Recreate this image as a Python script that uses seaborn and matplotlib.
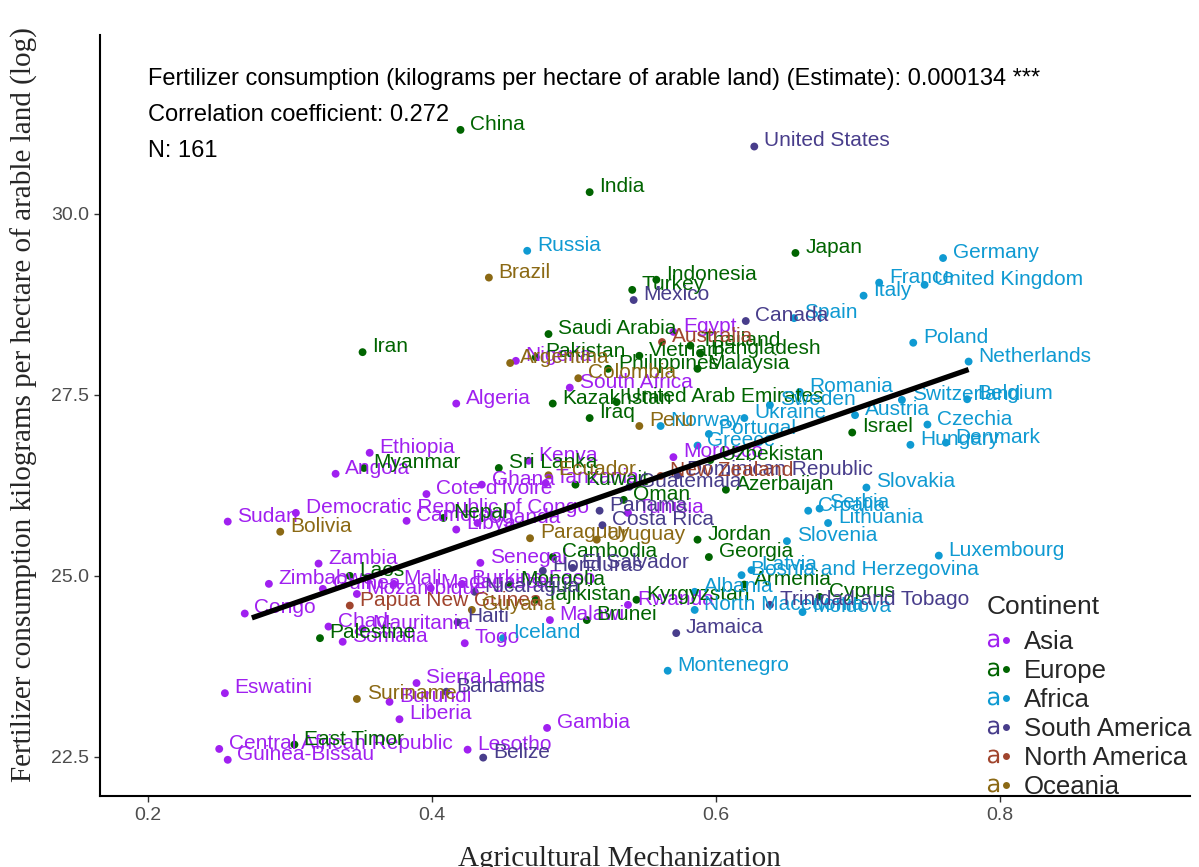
import matplotlib
matplotlib.use("Agg")
import matplotlib.pyplot as plt
import seaborn as sns
import pandas as pd
from matplotlib.lines import Line2D
from matplotlib.legend_handler import HandlerTuple

# ---- data ----
continents = ["Asia", "Europe", "Africa", "South America", "North America", "Oceania"]
colors = ["#A020F0", "#006400", "#0F9AD2", "#483D8B", "#A0452E", "#8B6914"]

asia_names = ["Algeria", "Ethiopia", "Angola", "Sudan", "Democratic Republic of Congo", "Cote d'Ivoire",
              "Ghana", "Kenya", "Tanzania", "Cameroon", "Libya", "Uganda", "Tunisia", "Morocco", "Egypt",
              "Nigeria", "South Africa", "Senegal", "Zambia", "Zimbabwe", "Congo", "Mali", "Mozambique",
              "Guinea", "Madagascar", "Burkina Faso", "Malawi", "Rwanda", "Togo", "Chad", "Somalia",
              "Mauritania", "Sierra Leone", "Burundi", "Liberia", "Eswatini", "Gambia",
              "Central African Republic", "Guinea-Bissau", "Lesotho"]
asia_x = [0.417, 0.356, 0.332, 0.256, 0.304, 0.396, 0.435, 0.468, 0.480, 0.382, 0.417, 0.432, 0.538, 0.570,
          0.570, 0.459, 0.497, 0.434, 0.320, 0.285, 0.268, 0.373, 0.347, 0.323, 0.399, 0.421, 0.483, 0.538,
          0.423, 0.327, 0.337, 0.351, 0.389, 0.370, 0.377, 0.254, 0.481, 0.250, 0.256, 0.425]
asia_y = [27.38, 26.70, 26.41, 25.75, 25.87, 26.13, 26.26, 26.59, 26.28, 25.76, 25.64, 25.73, 25.87, 26.64,
          28.37, 27.97, 27.60, 25.18, 25.17, 24.89, 24.48, 24.89, 24.75, 24.82, 24.83, 24.89, 24.39, 24.60,
          24.07, 24.30, 24.09, 24.27, 23.52, 23.26, 23.02, 23.38, 22.90, 22.61, 22.46, 22.60]

europe_names = ["China", "India", "Japan", "Indonesia", "Turkey", "Saudi Arabia", "Iran", "Pakistan",
                "Vietnam", "Philippines", "Thailand", "Bangladesh", "Malaysia", "Kazakhstan",
                "United Arab Emirates", "Iraq", "Israel", "Myanmar", "Sri Lanka", "Kuwait", "Uzbekistan",
                "Azerbaijan", "Oman", "Nepal", "Jordan", "Cambodia", "Georgia", "Laos", "Mongolia",
                "Tajikistan", "Kyrgyzstan", "Brunei", "Armenia", "Cyprus", "Palestine", "East Timor"]
europe_x = [0.420, 0.511, 0.656, 0.558, 0.541, 0.482, 0.351, 0.473, 0.546, 0.524, 0.582, 0.589, 0.587,
            0.485, 0.530, 0.511, 0.696, 0.352, 0.447, 0.501, 0.596, 0.607, 0.535, 0.408, 0.587, 0.485,
            0.595, 0.342, 0.455, 0.473, 0.544, 0.509, 0.620, 0.673, 0.321, 0.303]
europe_y = [31.16, 30.30, 29.46, 29.09, 28.95, 28.34, 28.09, 28.02, 28.04, 27.86, 28.18, 28.07, 27.86,
            27.38, 27.40, 27.18, 26.98, 26.49, 26.49, 26.26, 26.60, 26.19, 26.05, 25.80, 25.50, 25.26,
            25.26, 25.00, 24.88, 24.67, 24.67, 24.39, 24.88, 24.71, 24.14, 22.67]

africa_names = ["Russia", "Germany", "France", "United Kingdom", "Italy", "Spain", "Poland", "Netherlands",
                "Romania", "Sweden", "Switzerland", "Belgium", "Austria", "Czechia", "Hungary", "Denmark",
                "Norway", "Ukraine", "Portugal", "Greece", "Slovakia", "Serbia", "Croatia", "Lithuania",
                "Slovenia", "Luxembourg", "Latvia", "Bosnia and Herzegovina", "Albania", "North Macedonia",
                "Moldova", "Iceland", "Montenegro"]
africa_x = [0.467, 0.760, 0.715, 0.747, 0.704, 0.655, 0.739, 0.778, 0.659, 0.638, 0.731, 0.777, 0.698,
            0.749, 0.737, 0.762, 0.561, 0.620, 0.595, 0.587, 0.706, 0.673, 0.665, 0.679, 0.650, 0.757,
            0.625, 0.618, 0.585, 0.585, 0.661, 0.450, 0.566]
africa_y = [29.49, 29.39, 29.05, 29.02, 28.87, 28.56, 28.22, 27.96, 27.54, 27.36, 27.43, 27.44, 27.22,
            27.09, 26.81, 26.84, 27.07, 27.18, 26.96, 26.80, 26.22, 25.93, 25.90, 25.73, 25.48, 25.28,
            25.08, 25.01, 24.78, 24.53, 24.50, 24.14, 23.69]

samerica_names = ["United States", "Mexico", "Canada", "Guatemala", "Dominican Republic", "Panama",
                  "Costa Rica", "Honduras", "El Salvador", "Nicaragua", "Haiti", "Jamaica",
                  "Trinidad and Tobago", "Bahamas", "Belize"]
samerica_x = [0.627, 0.542, 0.621, 0.539, 0.573, 0.518, 0.520, 0.478, 0.499, 0.430, 0.418, 0.572, 0.638,
              0.410, 0.436]
samerica_y = [30.93, 28.81, 28.52, 26.23, 26.39, 25.90, 25.70, 25.07, 25.11, 24.78, 24.36, 24.21, 24.60,
              23.40, 22.49]

namerica_names = ["Australia", "New Zealand", "Papua New Guinea"]
namerica_x = [0.562, 0.561, 0.342]
namerica_y = [28.23, 26.38, 24.59]

oceania_names = ["Brazil", "Argentina", "Colombia", "Peru", "Ecuador", "Bolivia", "Paraguay", "Uruguay",
                 "Guyana", "Suriname"]
oceania_x = [0.440, 0.455, 0.503, 0.546, 0.482, 0.293, 0.469, 0.516, 0.428, 0.347]
oceania_y = [29.12, 27.94, 27.73, 27.07, 26.39, 25.61, 25.52, 25.50, 24.53, 23.30]

fit_x = [0.273, 0.778]
fit_y = [24.42, 27.85]

stats_lines = ["Fertilizer consumption (kilograms per hectare of arable land) (Estimate): 0.000134 ***",
               "Correlation coefficient: 0.272",
               "N: 161"]

# ---- build table ----
groups = [(asia_names, asia_x, asia_y), (europe_names, europe_x, europe_y),
          (africa_names, africa_x, africa_y), (samerica_names, samerica_x, samerica_y),
          (namerica_names, namerica_x, namerica_y), (oceania_names, oceania_x, oceania_y)]
frames = []
for cont, (n, xs, ys) in zip(continents, groups):
    frames.append(pd.DataFrame({"country": n, "mech": xs, "fert": ys, "continent": cont}))
df = pd.concat(frames, ignore_index=True)
pal = dict(zip(continents, colors))

sns.set_style("white")
plt.rcParams['font.family'] = ['Liberation Sans', 'DejaVu Sans']

fig = plt.figure(figsize=(11.99, 8.67), dpi=100)
ax = fig.add_axes([0.0834, 0.0819, 0.9091, 0.8777])

sns.scatterplot(data=df, x="mech", y="fert", hue="continent", palette=pal, s=32,
                edgecolor="none", legend=False, ax=ax, zorder=2)

for _, r in df.iterrows():
    ax.annotate(r["country"], (r["mech"], r["fert"]), xytext=(7, 4), textcoords="offset points",
                ha="left", va="center", fontsize=15, color=pal[r["continent"]], zorder=3)

ax.plot(fit_x, fit_y, color="black", lw=3.8, solid_capstyle="butt", zorder=4)

for i, s in enumerate(stats_lines):
    ax.text(0.044, 0.942 - i * 0.0473, s, transform=ax.transAxes, fontsize=17,
            ha="left", va="center", color="black")

ax.set_xlim(0.166, 0.934)
ax.set_ylim(21.96, 32.47)
ax.set_xticks([0.2, 0.4, 0.6, 0.8])
ax.set_xticklabels(["0.2", "0.4", "0.6", "0.8"])
ax.set_yticks([22.5, 25.0, 27.5, 30.0])
ax.set_yticklabels(["22.5", "25.0", "27.5", "30.0"])
ax.tick_params(axis="both", labelsize=14, labelcolor="#4D4D4D", color="#333333",
               length=4, width=1, direction="out", left=True, bottom=True, pad=4)
sns.despine(ax=ax)
for sp in ["left", "bottom"]:
    ax.spines[sp].set_color("black")
    ax.spines[sp].set_linewidth(1.5)

ax.set_xlabel("Agricultural Mechanization", family="Liberation Serif", fontsize=21)
ax.set_ylabel("Fertilizer consumption kilograms per hectare of arable land (log)",
              family="Liberation Serif", fontsize=21)
ax.xaxis.set_label_coords(0.477, -0.066)
ax.yaxis.set_label_coords(-0.057, 0.514)

handles = [(Line2D([], [], marker=r"$\mathrm{a}$", color=c, ls="", markersize=10, markeredgewidth=0),
            Line2D([], [], marker="o", color=c, ls="", markersize=5, markeredgewidth=0)) for c in colors]
leg = fig.legend(handles, continents, handler_map={tuple: HandlerTuple(ndivide=None, pad=0.0)},
                 loc="lower left", bbox_to_anchor=(0.823, 0.078), frameon=False,
                 fontsize=18.5, title="Continent", title_fontsize=19, handlelength=1.0,
                 handletextpad=0.45, labelspacing=0.2, borderpad=0, borderaxespad=0,
                 alignment="left")
leg.get_title().set_position((0, 6))

fig.savefig("out.png", dpi=100)
